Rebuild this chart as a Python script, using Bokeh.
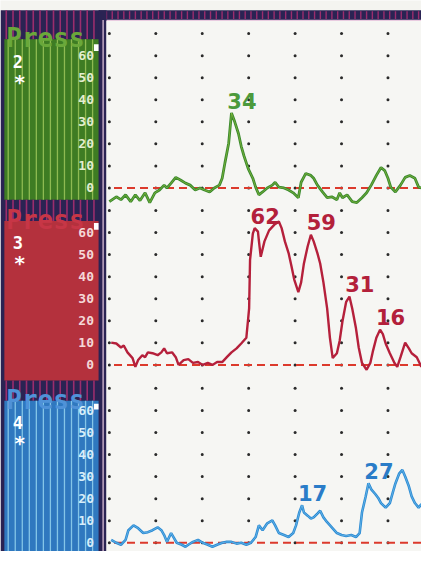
import numpy as np
from bokeh.plotting import figure
from bokeh.models import Range1d
from bokeh.core.properties import value
from bokeh.embed import file_html
from bokeh.resources import INLINE

# ---------------- data ----------------
grid_seconds = [0, 1, 2, 3, 4, 5, 6]
grid_levels = [0, 10, 20, 30, 40, 50, 60, 70]
tick_values = [0, 10, 20, 30, 40, 50, 60]
tick_labels = ["0", "10", "20", "30", "40", "50", "60"]
channel_names = ["2", "3", "4"]
header_text = "Press"
marker_text = "*"

ch2_time = [0.00, 0.15, 0.25, 0.35, 0.46, 0.56, 0.66, 0.77, 0.87, 0.98, 1.08, 1.18, 1.24, 1.33,
            1.43, 1.54, 1.64, 1.74, 1.85, 1.95, 2.05, 2.16, 2.26, 2.37, 2.43, 2.49, 2.57, 2.63,
            2.70, 2.78, 2.84, 2.90, 2.99, 3.09, 3.15, 3.22, 3.30, 3.40, 3.51, 3.57, 3.65, 3.76,
            3.86, 3.96, 4.07, 4.13, 4.23, 4.34, 4.40, 4.48, 4.59, 4.69, 4.79, 4.90, 4.96, 5.02,
            5.12, 5.23, 5.33, 5.44, 5.54, 5.64, 5.75, 5.85, 5.93, 6.00, 6.06, 6.16, 6.27, 6.37,
            6.47, 6.58, 6.66, 6.72]
ch2_press = [-6.2, -4.0, -5.3, -3.1, -6.2, -3.1, -5.7, -2.2, -6.6, -2.2, -0.9, 1.3, 0.0, 2.2,
             4.8, 3.5, 2.2, 1.3, -0.9, 0.0, -0.9, -1.8, 0.0, 1.3, 4.4, 11.5, 20.3, 34.0,
             30.0, 24.7, 18.9, 14.5, 8.8, 4.4, 0.4, -3.1, -1.8, 0.0, 1.3, 2.6, 0.4, 0.0,
             -0.9, -2.2, -4.4, 2.6, 6.6, 5.7, 4.4, 1.3, -1.8, -4.4, -4.0, -5.3, -2.2, -4.4,
             -3.1, -6.2, -6.6, -4.4, -2.2, 1.3, 5.7, 9.3, 7.9, 4.4, 0.4, -1.8, 1.3, 4.8,
             5.7, 4.4, 0.4, 0.0]

ch3_time = [0.04, 0.15, 0.25, 0.31, 0.39, 0.50, 0.56, 0.62, 0.71, 0.77, 0.83, 0.93, 1.04, 1.12,
            1.18, 1.24, 1.35, 1.43, 1.49, 1.60, 1.70, 1.80, 1.91, 2.01, 2.12, 2.22, 2.32, 2.43,
            2.53, 2.63, 2.74, 2.84, 2.95, 3.01, 3.03, 3.09, 3.13, 3.20, 3.22, 3.26, 3.34, 3.44,
            3.55, 3.65, 3.71, 3.78, 3.86, 3.92, 3.98, 4.07, 4.13, 4.19, 4.27, 4.34, 4.40, 4.48,
            4.54, 4.61, 4.69, 4.75, 4.81, 4.90, 4.96, 5.02, 5.10, 5.17, 5.23, 5.31, 5.37, 5.44,
            5.54, 5.62, 5.68, 5.75, 5.83, 5.89, 5.95, 6.04, 6.14, 6.20, 6.27, 6.37, 6.45, 6.51,
            6.62, 6.68, 6.72]
ch3_press = [10.1, 9.7, 7.9, 8.8, 5.7, 3.1, -0.9, 2.2, 4.4, 3.5, 5.7, 5.3, 4.4, 5.7,
             7.5, 5.3, 5.7, 3.5, 0.0, 2.2, 2.6, 0.9, 1.3, 0.0, 0.9, 0.0, 1.3, 1.3,
             3.5, 5.7, 7.5, 9.7, 12.3, 25.6, 47.6, 59.5, 62.0, 60.4, 56.4, 49.0, 56.0, 61.0,
             63.5, 65.0, 62.0, 56.0, 50.7, 45.0, 38.8, 33.0, 37.4, 46.0, 53.7, 59.0, 56.0, 50.7,
             46.0, 37.4, 25.6, 12.3, 3.1, 5.3, 11.0, 19.8, 28.6, 31.0, 25.6, 16.7, 7.9, 0.9,
             -2.2, 0.9, 6.6, 12.3, 16.0, 14.0, 9.7, 5.3, 0.9, -0.9, 3.5, 10.1, 7.5, 5.3,
             3.5, 0.9, -0.9]

ch4_time = [0.04, 0.15, 0.25, 0.35, 0.41, 0.52, 0.62, 0.73, 0.83, 0.93, 1.04, 1.12, 1.18, 1.24,
            1.33, 1.39, 1.45, 1.56, 1.64, 1.70, 1.80, 1.91, 2.01, 2.12, 2.22, 2.32, 2.43, 2.53,
            2.63, 2.74, 2.84, 2.95, 3.05, 3.15, 3.22, 3.30, 3.40, 3.51, 3.57, 3.65, 3.76, 3.86,
            3.96, 4.02, 4.09, 4.15, 4.19, 4.27, 4.34, 4.40, 4.48, 4.54, 4.61, 4.69, 4.79, 4.90,
            5.00, 5.10, 5.21, 5.31, 5.39, 5.44, 5.52, 5.58, 5.64, 5.73, 5.79, 5.85, 5.95, 6.04,
            6.10, 6.16, 6.24, 6.31, 6.37, 6.45, 6.51, 6.58, 6.66, 6.72]
ch4_press = [1.3, 0.0, -0.9, 1.3, 5.7, 7.9, 6.6, 4.4, 4.8, 5.7, 7.0, 5.7, 3.5, 0.4,
             4.4, 2.2, 0.0, -0.9, -1.8, -0.9, 0.4, 1.3, 0.0, -0.9, -1.8, -0.9, 0.0, 0.4,
             0.4, -0.4, 0.0, -0.9, 0.0, 2.6, 7.9, 5.7, 8.8, 10.1, 7.9, 4.4, 3.5, 2.6,
             4.4, 7.9, 13.7, 17.0, 13.7, 12.3, 11.0, 11.5, 13.2, 14.5, 11.5, 9.3, 7.0, 4.4,
             3.5, 3.1, 3.5, 2.6, 4.4, 13.7, 21.0, 27.0, 24.2, 22.0, 20.3, 18.0, 15.9, 18.0,
             22.5, 26.9, 31.3, 33.0, 30.0, 25.6, 21.0, 18.0, 15.9, 17.6]

ch2_peak_time = [2.63]
ch2_peak_press = [34]
ch3_peak_time = [3.13, 4.34, 5.17, 5.83]
ch3_peak_press = [62, 59, 31, 16]
ch4_peak_time = [4.15, 5.58]
ch4_peak_press = [17, 27]

# ---------------- figure ----------------
W, H = 421, 551
BG = "#f4f4f0"
NAVY = "#2a2353"
MAG = "#9b2d6d"

p = figure(width=W, height=H, x_range=Range1d(-2.344, 6.722), y_range=Range1d(-164.8, 85.0),
           output_backend="svg", toolbar_location=None, min_border=0,
           x_axis_location=None, y_axis_location=None)
p.grid.visible = False
p.outline_line_color = None
p.background_fill_color = BG
p.border_fill_color = BG
p.extra_x_ranges = {"px": Range1d(0, 437)}
p.extra_y_ranges = {"px": Range1d(567, 0),
                    "ch3": Range1d(-84.58, 165.2),
                    "ch4": Range1d(-3.96, 245.8)}


def box(l, r, t, b, color):
    p.quad(left=[l], right=[r], top=[t], bottom=[b], fill_color=color, line_color=None,
           x_range_name="px", y_range_name="px")


def vstripes(xs, y0, y1, color, width, alpha=1.0):
    xs = list(xs)
    p.segment(x0=xs, x1=xs, y0=[y0] * len(xs), y1=[y1] * len(xs), line_color=color,
              line_width=width, line_alpha=alpha, x_range_name="px", y_range_name="px")


# left instrument panel
box(0, 103, 10, 567, NAVY)
panels = [
    dict(head=(10, 40), body=(40, 205), col="#3e7c23", stripe="#9cc65a", txt="#6aa83a",
         tick="#e4eed0", name_y=63, star_y=84, sq=(45, 52), rng="default"),
    dict(head=(205, 227), body=(227, 391), col="#b4313d", stripe=None, txt="#c73646",
         tick="#f4d8d8", name_y=249, star_y=270, sq=(229, 236), rng="ch3"),
    dict(head=(391, 412), body=(412, 567), col="#2f78bf", stripe="#93d2ef", txt="#4f92d8",
         tick="#d8eef9", name_y=434, star_y=455, sq=(415, 421), rng="ch4"),
]
for k, pn in enumerate(panels):
    vstripes(np.arange(6, 101, 7.0), pn["head"][0], pn["head"][1], MAG, 1.6)
    box(4, 102, pn["body"][0], pn["body"][1], pn["col"])
    if pn["stripe"]:
        vstripes(np.arange(8, 101, 7.3), pn["body"][0], pn["body"][1], pn["stripe"], 1.3, 0.85)
    p.text(x=[6], y=[pn["head"][1] - 1], text=[header_text], text_color=pn["txt"],
           text_font=value("DejaVu Sans Mono"), text_font_style="bold", text_font_size="26px",
           text_baseline="alphabetic", x_range_name="px", y_range_name="px")
    p.text(x=[18], y=[pn["name_y"]], text=[channel_names[k]], text_color="#ffffff",
           text_font=value("DejaVu Sans Mono"), text_font_style="bold", text_font_size="17px",
           text_align="center", text_baseline="middle", x_range_name="px", y_range_name="px")
    p.text(x=[20], y=[pn["star_y"]], text=[marker_text], text_color="#ffffff",
           text_font=value("DejaVu Sans"), text_font_style="bold", text_font_size="20px",
           text_align="center", text_baseline="middle", x_range_name="px", y_range_name="px")
    box(97, 102, pn["sq"][0], pn["sq"][1], "#ffffff")
    kw = {} if pn["rng"] == "default" else {"y_range_name": pn["rng"]}
    p.text(x=[-0.33] * len(tick_values), y=tick_values, text=tick_labels, text_color=pn["tick"],
           text_font=value("DejaVu Sans Mono"), text_font_style="bold", text_font_size="13px",
           text_align="right", text_baseline="middle", **kw)

# plot area frame
box(102, 437, 10, 21, NAVY)
vstripes(np.arange(104, 437, 6.0), 11, 19, MAG, 1.4)
box(102, 110, 10, 567, NAVY)
p.segment(x0=[106.5], x1=[106.5], y0=[20], y1=[567], line_color="#e9cbe0", line_width=1.2,
          x_range_name="px", y_range_name="px")
p.segment(x0=[110], x1=[437], y0=[20.5], y1=[20.5], line_color="#e9cbe0", line_width=1.2,
          x_range_name="px", y_range_name="px")
box(110, 437, 21, 567, "#f6f6f3")

# dot grid
gx, gy = np.meshgrid(grid_seconds, grid_levels)
for rng in ["default", "ch3", "ch4"]:
    kw = {} if rng == "default" else {"y_range_name": rng}
    p.scatter(x=gx.ravel(), y=gy.ravel(), size=3, marker="circle", fill_color="#2a2a2a",
              line_color=None, **kw)

# zero reference lines
for rng in ["default", "ch3", "ch4"]:
    kw = {} if rng == "default" else {"y_range_name": rng}
    p.ray(x=[grid_seconds[0] + 0.1], y=[0], length=0, angle=0, line_color="#dc3a2c",
          line_width=2, line_dash="8 5", **kw)

# traces
p.line(ch2_time, ch2_press, line_color="#3a8a2e", line_width=2.8)
p.line(ch2_time, ch2_press, line_color="#b5d244", line_width=0.8, line_alpha=0.6)
p.line(ch3_time, ch3_press, line_color="#b5203b", line_width=2.4, y_range_name="ch3")
p.line(ch4_time, ch4_press, line_color="#2b8ad3", line_width=2.6, y_range_name="ch4")
p.line(ch4_time, ch4_press, line_color="#86cdf2", line_width=0.8, line_alpha=0.7,
       y_range_name="ch4")

# peak labels
for t, v, col, rng in [(ch2_peak_time, ch2_peak_press, "#4c9a3c", "default"),
                       (ch3_peak_time, ch3_peak_press, "#b3203a", "ch3"),
                       (ch4_peak_time, ch4_peak_press, "#2a7cc8", "ch4")]:
    kw = {} if rng == "default" else {"y_range_name": rng}
    p.text(x=[a - 0.09 for a in t], y=[b + 2.0 for b in v], text=[str(b) for b in v],
           text_color=col, text_font=value("DejaVu Sans"), text_font_style="bold",
           text_font_size="21px", text_baseline="bottom", text_align="left", **kw)

open("out.html", "w").write(file_html(p, INLINE))
